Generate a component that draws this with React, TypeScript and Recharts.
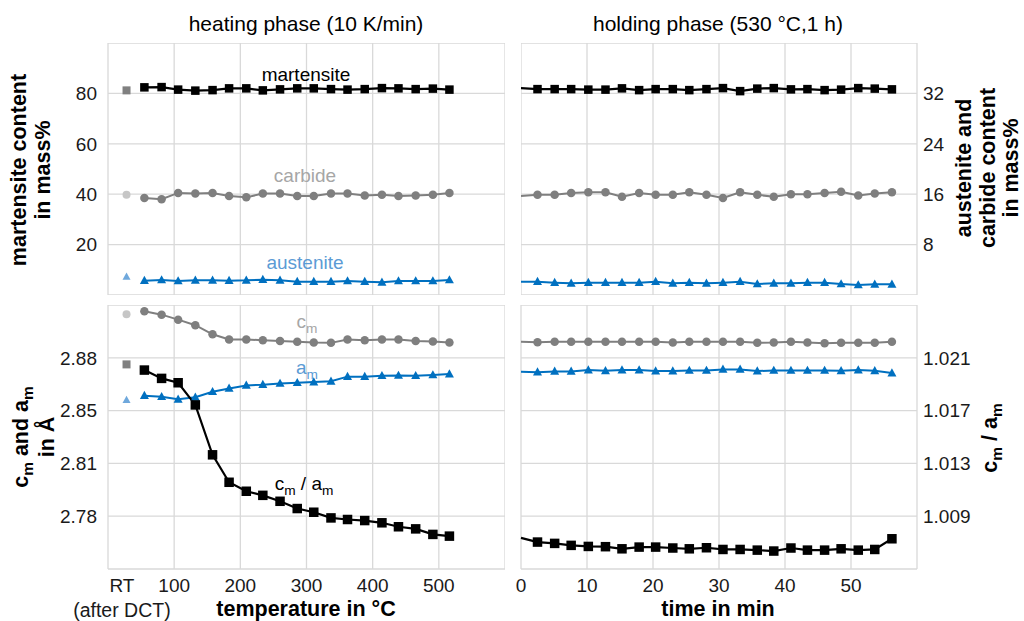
import React from "react";
import { ComposedChart, Line, XAxis, YAxis, CartesianGrid } from "recharts";

// heating phase (10 K/min), temperature in °C
const heatTemp = [55, 81, 106, 132, 158, 183, 209, 234, 260, 286, 311, 337, 362, 388, 414, 439, 465, 491, 516];
const heatMart = [82.4, 82.5, 81.5, 81.1, 81.3, 82.0, 82.0, 81.2, 81.6, 82.0, 82.0, 81.7, 81.5, 81.7, 82.1, 82.0, 81.7, 81.9, 81.5];
const heatCarb = [15.4, 15.2, 16.2, 16.1, 16.2, 15.7, 15.5, 16.1, 16.1, 15.7, 15.7, 16.1, 16.1, 15.8, 15.9, 15.7, 15.8, 15.9, 16.2];
const heatAust = [2.28, 2.38, 2.23, 2.33, 2.33, 2.28, 2.33, 2.44, 2.33, 2.12, 2.12, 2.12, 2.23, 2.12, 2.01, 2.23, 2.23, 2.23, 2.38];
const heatCm = [2.9108, 2.9086, 2.9053, 2.9016, 2.8956, 2.8921, 2.8921, 2.8917, 2.8912, 2.8906, 2.8901, 2.8899, 2.8921, 2.8917, 2.8921, 2.8921, 2.8912, 2.8908, 2.8901];
const heatAm = [2.8549, 2.8542, 2.8525, 2.8538, 2.8575, 2.8597, 2.8617, 2.8622, 2.863, 2.8635, 2.8639, 2.8644, 2.8675, 2.8675, 2.8681, 2.8683, 2.8681, 2.8686, 2.8692];
const heatCa = [1.02007, 1.01944, 1.01911, 1.01743, 1.01365, 1.01157, 1.01089, 1.01058, 1.01013, 1.00958, 1.0093, 1.00887, 1.00875, 1.00867, 1.0085, 1.0082, 1.00804, 1.00762, 1.00749];

// RT (after DCT) reference point
const rtTemp = 28;
const rtMart = 81.2;
const rtCarb = 15.9;
const rtAust = 2.9;
const rtCm = 2.9088;
const rtAm = 2.852;
const rtCa = 1.0205;

// holding phase (530 °C, 1 h), time in min
const holdTime = [0, 2.5, 5.1, 7.6, 10.2, 12.8, 15.3, 17.9, 20.4, 23.0, 25.5, 28.1, 30.6, 33.2, 35.8, 38.3, 40.9, 43.4, 46.0, 48.5, 51.1, 53.6, 56.2];
const holdMart = [82.1, 81.7, 81.7, 81.7, 81.5, 81.5, 82.0, 81.3, 81.7, 81.7, 81.3, 81.7, 82.1, 80.9, 81.9, 82.1, 81.6, 81.7, 81.3, 81.5, 82.1, 81.9, 81.6];
const holdCarb = [15.7, 15.9, 15.9, 16.2, 16.3, 16.3, 15.6, 16.2, 15.9, 15.9, 16.3, 15.9, 15.4, 16.3, 15.9, 15.6, 16.0, 16.0, 16.2, 16.4, 15.8, 16.1, 16.3];
const holdAust = [2.12, 2.12, 1.96, 1.85, 1.96, 1.96, 1.96, 1.96, 2.12, 1.85, 1.96, 1.85, 1.96, 2.12, 1.75, 1.85, 1.85, 1.96, 1.96, 1.75, 1.59, 1.7, 1.7];
const holdCm = [2.8906, 2.8903, 2.8906, 2.8906, 2.8906, 2.8906, 2.8906, 2.8906, 2.8906, 2.8901, 2.8906, 2.8906, 2.8906, 2.8906, 2.8899, 2.8901, 2.8906, 2.8901, 2.8897, 2.8899, 2.8899, 2.8899, 2.8906];
const holdAm = [2.8708, 2.8705, 2.871, 2.871, 2.8719, 2.8714, 2.8719, 2.8719, 2.8712, 2.8712, 2.8716, 2.8716, 2.8723, 2.8723, 2.8712, 2.8716, 2.8716, 2.8716, 2.8716, 2.8714, 2.8719, 2.8714, 2.8699];
const holdCa = [1.00736, 1.00704, 1.00694, 1.00679, 1.00671, 1.00669, 1.00653, 1.00666, 1.00666, 1.00659, 1.00653, 1.00661, 1.00648, 1.00648, 1.00643, 1.00636, 1.00659, 1.00643, 1.00643, 1.00653, 1.00643, 1.00648, 1.00729];

// axes
const tempGrid = [0, 100, 200, 300, 400, 500, 600];
const tempTicks = [21, 100, 200, 300, 400, 500];
const timeTicks = [0, 10, 20, 30, 40, 50, 60];
const massTicks = [0, 20, 40, 60, 80, 100];
const minorMassTicks = [0, 8, 16, 24, 32, 40];
const latticeTicks = [2.74, 2.775, 2.81, 2.845, 2.88, 2.915];
const latticeLabels = ["", "2.78", "2.81", "2.85", "2.88", ""];
const ratioTicks = [1.005, 1.009, 1.013, 1.017, 1.021, 1.025];

const BLACK = "#000000";
const GRAY = "#7f7f7f";
const BLUE = "#0070c0";
const GRID = "#d9d9d9";
const FONT = "'Liberation Sans', Arial, sans-serif";

const heatRows = [
  { t: rtTemp, rtMart, rtCarb, rtAust, rtCm, rtAm, rtCa },
  ...heatTemp.map((t, i) => ({
    t,
    mart: heatMart[i],
    carb: heatCarb[i],
    aust: heatAust[i],
    cm: heatCm[i],
    am: heatAm[i],
    ca: heatCa[i],
  })),
];

const holdRows = holdTime.map((t, i) => ({
  t,
  mart: holdMart[i],
  carb: holdCarb[i],
  aust: holdAust[i],
  cm: holdCm[i],
  am: holdAm[i],
  ca: holdCa[i],
}));

type Shape = "square" | "circle" | "triangle";

// marker renderer; the t=0 point of the holding phase only carries the line
function marker(shape: Shape, color: string, size: number, skipStart = false) {
  return (p: any) => {
    const { cx, cy, index, payload } = p;
    if (cx == null || cy == null || (skipStart && payload && payload.t === 0)) return <g key={`m${index}`} />;
    const h = size / 2;
    if (shape === "square") return <rect key={`m${index}`} x={cx - h} y={cy - h} width={size} height={size} fill={color} />;
    if (shape === "circle") return <circle key={`m${index}`} cx={cx} cy={cy} r={h} fill={color} />;
    return (
      <polygon
        key={`m${index}`}
        points={`${cx},${cy - size * 0.6} ${cx - h - 0.5},${cy + size * 0.42} ${cx + h + 0.5},${cy + size * 0.42}`}
        fill={color}
      />
    );
  };
}

const tickStyle = { fontSize: 19, fill: "#1a1a1a", fontFamily: FONT };

function TempTick(props: any) {
  const { x, y, payload } = props;
  if (payload.value === 21) {
    return (
      <g>
        <text x={x} y={y} dy="0.71em" textAnchor="middle" {...tickStyle}>RT</text>
        <text x={x} y={y + 24} dy="0.71em" textAnchor="middle" {...tickStyle} fontSize={19.5}>(after DCT)</text>
      </g>
    );
  }
  return (
    <text x={x} y={y} dy="0.71em" textAnchor="middle" {...tickStyle}>
      {payload.value}
    </text>
  );
}

function Txt({ x, y, rot, style, children }: any) {
  return (
    <div
      style={{
        position: "absolute",
        left: x,
        top: y,
        transform: `translate(-50%, -50%)${rot ? " rotate(-90deg)" : ""}`,
        whiteSpace: "nowrap",
        lineHeight: 1.1,
        textAlign: "center",
        fontFamily: FONT,
        fontSize: 19,
        ...style,
      }}
    >
      {children}
    </div>
  );
}

const sub = { fontSize: "0.72em", verticalAlign: "-0.35em" } as const;
const margin = { top: 0, right: 0, bottom: 0, left: 0 };
const axisTitle = { fontWeight: "bold", fontSize: 21.5 } as const;

export default function App() {
  return (
    <div style={{ position: "absolute", left: 0, top: 0, width: 1024, height: 621, background: "#fff", overflow: "hidden" }}>
      {/* top left: phase contents during heating */}
      <div style={{ position: "absolute", left: 48, top: 43 }}>
        <ComposedChart width={457} height={252} data={heatRows} margin={margin}>
          <CartesianGrid stroke={GRID} strokeWidth={1.3} xAxisId="g" yAxisId="l" />
          <XAxis xAxisId="x" dataKey="t" type="number" domain={[0, 600]} height={0} hide />
          <XAxis xAxisId="g" dataKey="t" type="number" domain={[0, 600]} ticks={tempGrid} height={0} hide />
          <YAxis yAxisId="l" domain={[0, 100]} ticks={massTicks} width={60} axisLine={false} tickLine={false} interval={0}
            tickSize={6} tickMargin={5} tick={tickStyle} tickFormatter={(v: number) => (v === 0 || v === 100 ? "" : String(v))} />
          <YAxis yAxisId="r" orientation="right" domain={[0, 40]} hide />
          <Line xAxisId="x" yAxisId="l" dataKey="mart" stroke={BLACK} strokeWidth={2.2} dot={marker("square", BLACK, 8.5)} isAnimationActive={false} />
          <Line xAxisId="x" yAxisId="r" dataKey="carb" stroke={GRAY} strokeWidth={2} dot={marker("circle", GRAY, 8.5)} isAnimationActive={false} />
          <Line xAxisId="x" yAxisId="r" dataKey="aust" stroke={BLUE} strokeWidth={2} dot={marker("triangle", BLUE, 8)} isAnimationActive={false} />
          <Line xAxisId="x" yAxisId="l" dataKey="rtMart" stroke="none" dot={marker("square", "#808080", 8)} isAnimationActive={false} />
          <Line xAxisId="x" yAxisId="r" dataKey="rtCarb" stroke="none" dot={marker("circle", "#c6c6c6", 8)} isAnimationActive={false} />
          <Line xAxisId="x" yAxisId="r" dataKey="rtAust" stroke="none" dot={marker("triangle", "#6fa8dc", 7)} isAnimationActive={false} />
        </ComposedChart>
      </div>

      {/* top right: phase contents during holding */}
      <div style={{ position: "absolute", left: 521, top: 43 }}>
        <ComposedChart width={456} height={252} data={holdRows} margin={margin}>
          <CartesianGrid stroke={GRID} strokeWidth={1.3} yAxisId="r" />
          <XAxis dataKey="t" type="number" domain={[0, 60]} ticks={timeTicks} height={0} hide />
          <YAxis yAxisId="l" domain={[0, 100]} hide />
          <YAxis yAxisId="r" orientation="right" domain={[0, 40]} ticks={minorMassTicks} width={60} axisLine={false} tickLine={false} interval={0}
            tickSize={6} tickMargin={0} tick={tickStyle} tickFormatter={(v: number) => (v === 0 || v === 40 ? "" : String(v))} />
          <Line yAxisId="l" dataKey="mart" stroke={BLACK} strokeWidth={2.2} dot={marker("square", BLACK, 8.5, true)} isAnimationActive={false} />
          <Line yAxisId="r" dataKey="carb" stroke={GRAY} strokeWidth={2} dot={marker("circle", GRAY, 8.5, true)} isAnimationActive={false} />
          <Line yAxisId="r" dataKey="aust" stroke={BLUE} strokeWidth={2} dot={marker("triangle", BLUE, 8, true)} isAnimationActive={false} />
        </ComposedChart>
      </div>

      {/* bottom left: lattice parameters during heating */}
      <div style={{ position: "absolute", left: 48, top: 305 }}>
        <ComposedChart width={457} height={316} data={heatRows} margin={margin}>
          <CartesianGrid stroke={GRID} strokeWidth={1.3} xAxisId="g" yAxisId="l" />
          <XAxis xAxisId="x" dataKey="t" type="number" domain={[0, 600]} ticks={tempTicks} height={52} axisLine={false} tickLine={false}
            interval={0} tickSize={6} tickMargin={4} tick={<TempTick />} />
          <XAxis xAxisId="g" dataKey="t" type="number" domain={[0, 600]} ticks={tempGrid} height={0} hide />
          <YAxis yAxisId="l" domain={[2.74, 2.915]} ticks={latticeTicks} width={60} axisLine={false} tickLine={false} interval={0}
            tickSize={6} tickMargin={5} tick={tickStyle} tickFormatter={(_v: number, i: number) => latticeLabels[i]} />
          <YAxis yAxisId="r" orientation="right" domain={[1.005, 1.025]} hide />
          <Line xAxisId="x" yAxisId="l" dataKey="cm" stroke={GRAY} strokeWidth={2} dot={marker("circle", GRAY, 8.5)} isAnimationActive={false} />
          <Line xAxisId="x" yAxisId="l" dataKey="am" stroke={BLUE} strokeWidth={2} dot={marker("triangle", BLUE, 8)} isAnimationActive={false} />
          <Line xAxisId="x" yAxisId="r" dataKey="ca" stroke={BLACK} strokeWidth={2.2} dot={marker("square", BLACK, 9.5)} isAnimationActive={false} />
          <Line xAxisId="x" yAxisId="l" dataKey="rtCm" stroke="none" dot={marker("circle", "#c6c6c6", 8)} isAnimationActive={false} />
          <Line xAxisId="x" yAxisId="l" dataKey="rtAm" stroke="none" dot={marker("triangle", "#6fa8dc", 7)} isAnimationActive={false} />
          <Line xAxisId="x" yAxisId="r" dataKey="rtCa" stroke="none" dot={marker("square", "#808080", 8)} isAnimationActive={false} />
        </ComposedChart>
      </div>

      {/* bottom right: lattice parameters during holding (left margin leaves room for the "0" label) */}
      <div style={{ position: "absolute", left: 505, top: 305 }}>
        <ComposedChart width={472} height={316} data={holdRows} margin={{ top: 0, right: 0, bottom: 0, left: 16 }}>
          <CartesianGrid stroke={GRID} strokeWidth={1.3} yAxisId="r" />
          <XAxis dataKey="t" type="number" domain={[0, 60]} ticks={timeTicks} height={52} axisLine={false} tickLine={false}
            interval={0} tickSize={6} tickMargin={4} tick={tickStyle} tickFormatter={(v: number) => (v === 60 ? "" : String(v))} />
          <YAxis yAxisId="l" domain={[2.74, 2.915]} hide />
          <YAxis yAxisId="r" orientation="right" domain={[1.005, 1.025]} ticks={ratioTicks} width={60} axisLine={false} tickLine={false}
            interval={0} tickSize={6} tickMargin={0} tick={tickStyle}
            tickFormatter={(v: number) => (v === 1.005 || v === 1.025 ? "" : v.toFixed(3))} />
          <Line yAxisId="l" dataKey="cm" stroke={GRAY} strokeWidth={2} dot={marker("circle", GRAY, 8.5, true)} isAnimationActive={false} />
          <Line yAxisId="l" dataKey="am" stroke={BLUE} strokeWidth={2} dot={marker("triangle", BLUE, 8, true)} isAnimationActive={false} />
          <Line yAxisId="r" dataKey="ca" stroke={BLACK} strokeWidth={2.2} dot={marker("square", BLACK, 9.5, true)} isAnimationActive={false} />
        </ComposedChart>
      </div>

      {/* titles */}
      <Txt x={306} y={24} style={{ fontSize: 21 }}>heating phase (10 K/min)</Txt>
      <Txt x={718} y={24} style={{ fontSize: 21 }}>holding phase (530 °C,1 h)</Txt>

      {/* axis titles */}
      <Txt x={32} y={170} rot style={axisTitle}>
        martensite content<br />in mass%
      </Txt>
      <Txt x={988} y={168} rot style={axisTitle}>
        austenite and<br />carbide content<br />in mass%
      </Txt>
      <Txt x={35} y={437} rot style={axisTitle}>
        c<span style={sub}>m</span> and a<span style={sub}>m</span><br />in Å
      </Txt>
      <Txt x={992} y={438} rot style={axisTitle}>
        c<span style={sub}>m</span> / a<span style={sub}>m</span>
      </Txt>
      <Txt x={306} y={610} style={axisTitle}>temperature in °C</Txt>
      <Txt x={718} y={610} style={axisTitle}>time in min</Txt>

      {/* series annotations */}
      <Txt x={306} y={75} style={{ color: BLACK }}>martensite</Txt>
      <Txt x={305} y={176} style={{ color: "#a6a6a6" }}>carbide</Txt>
      <Txt x={305} y={263} style={{ color: "#5b9bd5" }}>austenite</Txt>
      <Txt x={307} y={324} style={{ color: "#a6a6a6" }}>c<span style={sub}>m</span></Txt>
      <Txt x={307} y={370} style={{ color: "#5b9bd5" }}>a<span style={sub}>m</span></Txt>
      <Txt x={304} y={486} style={{ color: BLACK }}>
        c<span style={sub}>m</span> / a<span style={sub}>m</span>
      </Txt>
    </div>
  );
}
